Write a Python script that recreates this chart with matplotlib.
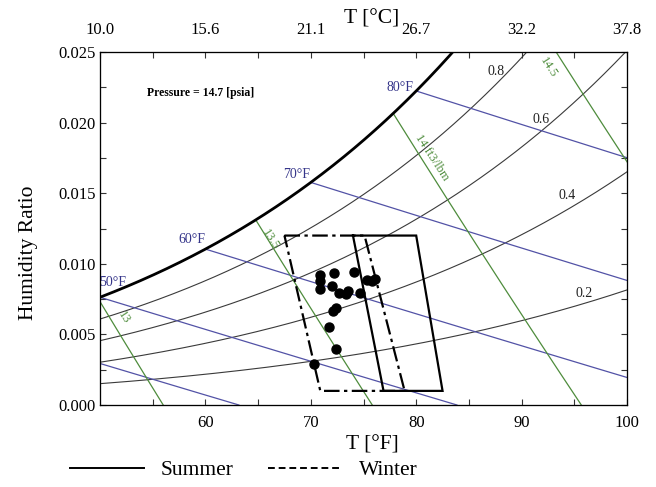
import numpy as np
import matplotlib
matplotlib.use("Agg")
import matplotlib.pyplot as plt
from matplotlib.lines import Line2D

# ---------------- data ----------------
pressure_psia = 14.696
rh_levels = [0.2, 0.4, 0.6, 0.8]
rh_labels = ["0.2", "0.4", "0.6", "0.8"]
rh_label_T = [95.9, 94.3, 91.8, 87.6]
rh_label_W = [0.00793, 0.01487, 0.02025, 0.02365]

wb_temps = [40, 50, 60, 70, 80]
wb_labels = ["50°F", "60°F", "70°F", "80°F"]
wb_label_T = [51.2, 58.7, 68.7, 78.5]
wb_label_W = [0.0087, 0.0117, 0.0163, 0.0225]

volumes = [13.0, 13.5, 14.0, 14.5]
vol_labels = ["13", "13.5", "14 ft3/lbm", "14.5"]
vol_label_T = [52.3, 66.2, 81.5, 92.5]
vol_label_W = [0.0062, 0.0117, 0.0175, 0.0239]

summer_T = [74.0, 80.0, 82.5, 76.9, 74.0]
summer_W = [0.012, 0.012, 0.001, 0.001, 0.012]
winter_T = [67.5, 75.1, 78.9, 70.9, 67.5]
winter_W = [0.012, 0.012, 0.001, 0.001, 0.012]

points_T = [70.9, 72.2, 74.1, 70.9, 72.0, 70.9, 72.7, 73.5, 73.3, 74.7,
            75.3, 76.1, 75.8, 72.4, 72.1, 71.7, 72.4, 70.3]
points_W = [0.00921, 0.00933, 0.00944, 0.00880, 0.00845, 0.00822, 0.00791,
            0.00810, 0.00786, 0.00791, 0.00885, 0.00892, 0.00878, 0.00685,
            0.00668, 0.00555, 0.00397, 0.00288]

x_ticks = [60, 70, 80, 90, 100]
top_ticks = [50, 60, 70, 80, 90, 100]
top_labels = ["10.0", "15.6", "21.1", "26.7", "32.2", "37.8"]
y_ticks = [0.000, 0.005, 0.010, 0.015, 0.020, 0.025]

# ---------------- psychrometrics ----------------
def pws(t):
    T = np.asarray(t) + 459.67
    return np.exp(-1.0440397e4 / T - 1.1294650e1 - 2.7022355e-2 * T
                  + 1.2890360e-5 * T**2 - 2.4780681e-9 * T**3 + 6.5459673 * np.log(T))

def w_from_pw(pw):
    return 0.621945 * pw / (pressure_psia - pw)

def w_wetbulb(t, twb):
    ws = w_from_pw(pws(twb))
    return ((1093 - 0.556 * twb) * ws - 0.240 * (t - twb)) / (1093 + 0.444 * t - twb)

def w_volume(t, v):
    return (v * pressure_psia / (0.370486 * (np.asarray(t) + 459.67)) - 1) / 1.607858

plt.rcParams['font.family'] = ['Liberation Serif', 'DejaVu Serif']

fig = plt.figure(figsize=(6.56, 4.87), dpi=100)
ax = fig.add_axes([100/656, 1 - 405/487, 527/656, 353/487])
ax.set_xlim(50, 100)
ax.set_ylim(0, 0.025)

tt = np.linspace(50, 100, 600)
# RH lines
for phi in rh_levels:
    ax.plot(tt, w_from_pw(phi * pws(tt)), color="#3a3a3a", lw=0.8)
for s, x, y in zip(rh_labels, rh_label_T, rh_label_W):
    ax.text(x, y, s, fontsize=10, ha="center", va="center", color="#222222")

# wet bulb lines
for twb in wb_temps:
    ws = w_from_pw(pws(twb))
    t_end = min(100.0, twb + (1093 - 0.556 * twb) * ws / 0.240)
    t_line = np.linspace(max(twb, 50), t_end, 200)
    w_line = np.clip(w_wetbulb(t_line, twb), 0, None)
    ax.plot(t_line, w_line, color="#5252a6", lw=0.9)
for s, x, y in zip(wb_labels, wb_label_T, wb_label_W):
    ax.text(x, y, s, fontsize=10, ha="center", va="center", color="#35358a")

# specific volume lines
tfine = np.linspace(30, 130, 20001)
for v in volumes:
    diff = w_from_pw(pws(tfine)) - w_volume(tfine, v)
    t_sat = tfine[np.argmax(diff > 0)]
    t0 = v * pressure_psia / 0.370486 - 459.67
    t_line = np.linspace(t_sat, t0, 300)
    ax.plot(t_line, np.clip(w_volume(t_line, v), 0, None), color="#4e8c3c", lw=0.9)
for s, x, y in zip(vol_labels, vol_label_T, vol_label_W):
    ax.text(x, y, s, fontsize=9, ha="center", va="center", color="#4e8c3c",
            rotation=-57, rotation_mode="anchor")

# saturation curve
ax.plot(tt, w_from_pw(pws(tt)), color="black", lw=2.0)

ax.text(0.09, 0.885, "Pressure = 14.7 [psia]", transform=ax.transAxes,
        fontsize=8.5, fontweight="bold", ha="left", va="center")

# comfort zones
ax.plot(summer_T, summer_W, color="black", lw=1.6, solid_joinstyle="miter")
ax.plot(winter_T, winter_W, color="black", lw=1.6, dashes=(7, 2, 1.5, 2))

ax.plot(points_T, points_W, "o", color="black", ms=6.5, zorder=5)

# axes styling
ax.set_xticks(x_ticks)
ax.set_xticks(np.arange(55, 100, 10), minor=True)
ax.set_yticks(y_ticks)
ax.set_yticklabels([f"{v:.3f}" for v in y_ticks])
ax.set_yticks(np.arange(0.0025, 0.025, 0.005), minor=True)
ax.tick_params(which="both", direction="in", length=4, width=0.8, labelsize=12,
               right=True, top=False, colors="#333333", labelcolor="black")
ax.tick_params(axis="x", pad=7)
ax.tick_params(axis="y", pad=3)
for sp in ax.spines.values():
    sp.set_color("#333333")
    sp.set_linewidth(0.9)

ax2 = ax.twiny()
ax2.set_xlim(50, 100)
ax2.set_xticks(top_ticks)
ax2.set_xticklabels(top_labels)
ax2.set_xticks(np.arange(55, 100, 10), minor=True)
ax2.tick_params(which="both", direction="in", length=4, width=0.8, labelsize=12,
                pad=10, colors="#333333", labelcolor="black")

fig.text(372/656, 1 - 445/487, "T [°F]", fontsize=15.5, ha="center", va="center")
fig.text(372/656, 1 - 19/487, "T [°C]", fontsize=15.5, ha="center", va="center")
fig.text(28/656, 1 - 253/487, "Humidity Ratio", fontsize=15.5, ha="center",
         va="center", rotation=90)

handles = [Line2D([], [], color="black", lw=1.4),
           Line2D([], [], color="black", lw=1.4, dashes=(3.5, 2))]
fig.legend(handles, ["Summer", "Winter"], loc="center left",
           bbox_to_anchor=(51/656, 1 - 470/487), ncol=2, frameon=False,
           fontsize=15.5, handlelength=3.4, handletextpad=0.8, columnspacing=1.6)

fig.savefig("out.png", dpi=100)
